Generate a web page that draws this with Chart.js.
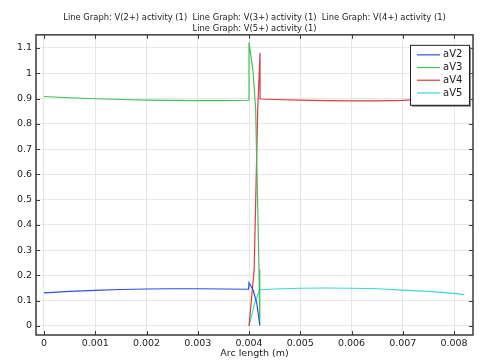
<!DOCTYPE html>
<html>
<head>
<meta charset="utf-8">
<script src="https://cdn.jsdelivr.net/npm/chart.js@4.4.0/dist/chart.umd.min.js"></script>
<style>
    html, body { margin: 0; padding: 0; background: #fff; }
    #wrap { width: 480px; height: 363px; position: relative; }
</style>
</head>
<body>
<div id="wrap"><canvas id="chartContainerActivity" width="480" height="363"></canvas></div>
<script>
// values
const titleLines = [
    'Line Graph: V(2+) activity (1)  Line Graph: V(3+) activity (1)  Line Graph: V(4+) activity (1)',
    'Line Graph: V(5+) activity (1)'
];
const xAxisTitle = 'Arc length (m)';
const seriesNames = ['aV2', 'aV3', 'aV4', 'aV5'];
const seriesColors = ['#2b50e6', '#45bf5a', '#e03a3a', '#3fd6d6'];

const av2X = [0, 0.0005, 0.001, 0.0015, 0.002, 0.0025, 0.003, 0.0035, 0.00399, 0.004, 0.00408, 0.00415, 0.00421];
const av2Y = [0.131, 0.137, 0.141, 0.144, 0.146, 0.147, 0.147, 0.146, 0.145, 0.171, 0.142, 0.091, 0.004];

const av3X = [0, 0.0005, 0.001, 0.0015, 0.002, 0.0025, 0.003, 0.0035, 0.004, 0.004, 0.00408, 0.00413, 0.004195, 0.00421];
const av3Y = [0.908, 0.903, 0.899, 0.896, 0.894, 0.893, 0.892, 0.892, 0.893, 1.123, 1.005, 0.855, 0.222, 0];

const av4X = [0.004, 0.0041, 0.00417, 0.004215, 0.004215, 0.0045, 0.005, 0.0055, 0.006, 0.0065, 0.007, 0.0075, 0.008, 0.0082];
const av4Y = [0, 0.222, 0.855, 1.08, 0.898, 0.896, 0.894, 0.892, 0.891, 0.891, 0.893, 0.898, 0.908, 0.918];

const av5X = [0.004, 0.004045, 0.00411, 0.004195, 0.00422, 0.0045, 0.005, 0.0055, 0.006, 0.0065, 0.007, 0.0075, 0.008, 0.0082];
const av5Y = [0, 0.037, 0.09, 0.136, 0.143, 0.146, 0.149, 0.15, 0.149, 0.147, 0.142, 0.137, 0.129, 0.124];

const xTicks = [0, 0.001, 0.002, 0.003, 0.004, 0.005, 0.006, 0.007, 0.008];
const yTicks = [0, 0.1, 0.2, 0.3, 0.4, 0.5, 0.6, 0.7, 0.8, 0.9, 1, 1.1];

function toPoints(xs, ys) {
    let pts = [];
    for (let i = 0; i < xs.length; i++) {
        pts.push({ x: xs[i], y: ys[i] });
    }
    return pts;
}

// frame, inward ticks and the boxed legend
const comsolFrame = {
    id: 'comsolFrame',
    afterDraw(chart) {
        const ctx = chart.ctx;
        const a = chart.chartArea;
        const xs = chart.scales.x;
        const ys = chart.scales.y;
        ctx.save();
        ctx.strokeStyle = '#3a3a3a';
        ctx.lineWidth = 1;
        ctx.beginPath();
        xTicks.forEach(function (v) {
            let px = Math.round(xs.getPixelForValue(v)) + 0.5;
            ctx.moveTo(px, a.bottom); ctx.lineTo(px, a.bottom - 4);
            ctx.moveTo(px, a.top); ctx.lineTo(px, a.top + 4);
        });
        yTicks.forEach(function (v) {
            let py = Math.round(ys.getPixelForValue(v)) + 0.5;
            ctx.moveTo(a.left, py); ctx.lineTo(a.left + 4, py);
            ctx.moveTo(a.right, py); ctx.lineTo(a.right - 4, py);
        });
        ctx.stroke();
        ctx.lineWidth = 1.5;
        ctx.strokeRect(a.left, a.top, a.right - a.left, a.bottom - a.top);

        // legend box
        let bx = a.right - 63, by = a.top + 10, bw = 59, bh = 60;
        ctx.fillStyle = '#8c8c8c';
        ctx.fillRect(bx + 2, by + 2, bw, bh);
        ctx.fillStyle = '#fff';
        ctx.fillRect(bx, by, bw, bh);
        ctx.strokeStyle = '#222';
        ctx.lineWidth = 1;
        ctx.strokeRect(bx + 0.5, by + 0.5, bw, bh);
        ctx.font = '10px "DejaVu Sans", sans-serif';
        ctx.textBaseline = 'middle';
        ctx.textAlign = 'left';
        chart.data.datasets.forEach(function (ds, i) {
            let ry = by + 10 + i * 12.7;
            ctx.strokeStyle = ds.borderColor;
            ctx.lineWidth = 1.2;
            ctx.beginPath();
            ctx.moveTo(bx + 7, ry); ctx.lineTo(bx + 30, ry);
            ctx.stroke();
            ctx.fillStyle = '#222';
            ctx.fillText(ds.label, bx + 33, ry);
        });
        ctx.restore();
    }
};

function initActivityChart() {
    let canvas = document.getElementById('chartContainerActivity');
    let allX = [av2X, av3X, av4X, av5X];
    let allY = [av2Y, av3Y, av4Y, av5Y];
    let datasets = [];
    for (let i = 0; i < seriesNames.length; i++) {
        datasets.push({
            label: seriesNames[i],
            data: toPoints(allX[i], allY[i]),
            borderColor: seriesColors[i],
            backgroundColor: seriesColors[i],
            borderWidth: 1.2,
            pointRadius: 0,
            tension: 0,
            fill: false
        });
    }

    new Chart(canvas, {
        type: 'line',
        data: { datasets: datasets },
        options: {
            responsive: false,
            animation: false,
            devicePixelRatio: 1,
            layout: { padding: { left: 0, right: 7, top: 0, bottom: 4 } },
            plugins: {
                legend: { display: false },
                tooltip: { enabled: false },
                title: {
                    display: true,
                    text: titleLines,
                    fullSize: false,
                    color: '#222',
                    font: { family: 'DejaVu Sans', size: 8.4, weight: 'normal', lineHeight: 1.3 },
                    padding: { top: 12, bottom: 1 }
                }
            },
            scales: {
                x: {
                    type: 'linear',
                    min: -0.000156,
                    max: 0.00837,
                    afterBuildTicks: function (scale) {
                        scale.ticks = xTicks.map(function (v) { return { value: v }; });
                    },
                    afterFit: function (scale) { scale.height = 24; },
                    ticks: {
                        color: '#222',
                        font: { family: 'DejaVu Sans', size: 9.5 },
                        padding: 3,
                        maxRotation: 0,
                        callback: function (v) { return String(parseFloat(v.toFixed(4))); }
                    },
                    grid: { color: '#e6e6e6', drawTicks: false },
                    border: { display: false },
                    title: {
                        display: true,
                        text: xAxisTitle,
                        color: '#222',
                        font: { family: 'DejaVu Sans', size: 9.5 },
                        padding: { top: 0, bottom: 0 }
                    }
                },
                y: {
                    min: -0.036,
                    max: 1.152,
                    afterBuildTicks: function (scale) {
                        scale.ticks = yTicks.map(function (v) { return { value: v }; });
                    },
                    afterFit: function (scale) { scale.width = 36; },
                    ticks: {
                        color: '#222',
                        font: { family: 'DejaVu Sans', size: 9.5 },
                        padding: 4,
                        callback: function (v) { return String(parseFloat(v.toFixed(2))); }
                    },
                    grid: { color: '#e6e6e6', drawTicks: false },
                    border: { display: false }
                }
            }
        },
        plugins: [comsolFrame]
    });
}

window.addEventListener('load', initActivityChart);
</script>
</body>
</html>
